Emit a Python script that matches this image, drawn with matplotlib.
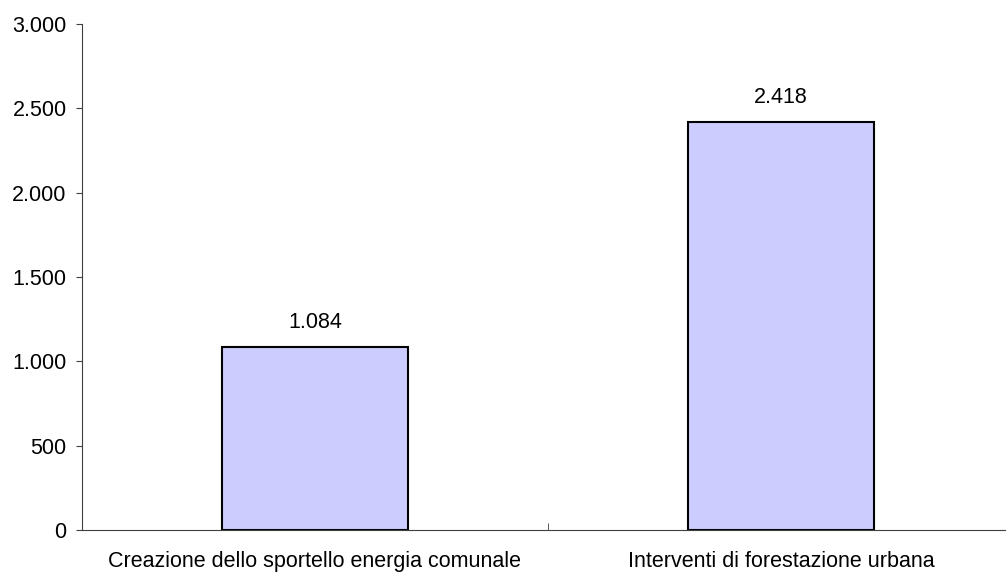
from matplotlib import pyplot as plt
from matplotlib.ticker import FuncFormatter

categories = ['Creazione dello sportello energia comunale', 'Interventi di forestazione urbana']
values = [1084, 2418]
yticks = [0, 500, 1000, 1500, 2000, 2500, 3000]


def dot_thousands(v, pos=None):
    return '{:,.0f}'.format(v).replace(',', '.')


plt.rcParams['font.family'] = ['Liberation Sans', 'DejaVu Sans']
FS = 15.5
AXIS_COLOR = '#404040'

fig = plt.figure(figsize=(10.06, 5.76), dpi=100)
ax = fig.add_axes([82 / 1006, 46 / 576, 932 / 1006, 506 / 576])

x = list(range(len(categories)))
bars = ax.bar(x, values, width=0.4, color='#ccccff', edgecolor='black', linewidth=1.5)
for b, v in zip(bars, values):
    ax.annotate(dot_thousands(v), (b.get_x() + b.get_width() / 2, v),
                xytext=(0, 18), textcoords='offset points',
                ha='center', va='center', fontsize=FS)

ax.set_xlim(-0.5, len(categories) - 0.5)
ax.set_ylim(0, 3000)
ax.set_yticks(yticks)
ax.yaxis.set_major_formatter(FuncFormatter(dot_thousands))
ax.set_xticks(x)
ax.set_xticklabels(categories)
# category separators drawn as small inward ticks
ax.set_xticks([i + 0.5 for i in x[:-1]], minor=True)
ax.tick_params(axis='x', which='major', length=0, pad=15, labelsize=FS)
ax.tick_params(axis='x', which='minor', direction='in', length=5, color=AXIS_COLOR)
ax.tick_params(axis='y', direction='out', length=4, pad=7, labelsize=FS, color=AXIS_COLOR)

for side in ['top', 'right']:
    ax.spines[side].set_visible(False)
ax.spines['left'].set_color(AXIS_COLOR)
ax.spines['bottom'].set_color(AXIS_COLOR)

fig.savefig('out.png', dpi=100)
